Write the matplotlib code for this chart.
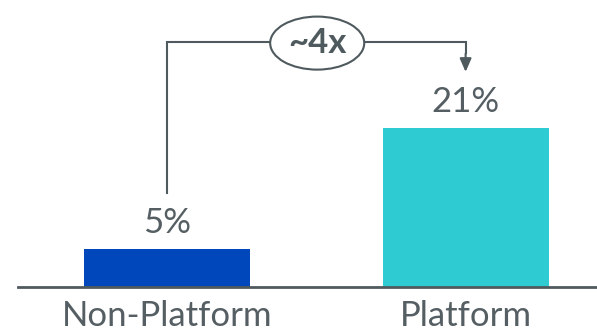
import matplotlib.pyplot as plt
from matplotlib.patches import Ellipse

# Share of results by segment
categories = ["Non-Platform", "Platform"]
values = [5, 21]
labels = ["5%", "21%"]
colors = ["#0047BB", "#2ECBD3"]
multiple_label = "~4x"

text_color = "#555F63"
line_color = "#4F5A5E"

plt.rcParams['font.family'] = ['Lato', 'DejaVu Sans']

fig = plt.figure(figsize=(5.97, 3.36), dpi=100)
ax = fig.add_axes([18 / 597, 49 / 336, 579 / 597, 0.789])

x = list(range(len(categories)))
ax.bar(x, values, width=0.556, color=colors, zorder=2)
ax.set_xlim(-0.499, 1.44)
ax.set_ylim(0, 35)

# value labels above each bar
for xi, v, lab in zip(x, values, labels):
    ax.annotate(lab, (xi, v), xytext=(0, 19), textcoords="offset points",
                ha="center", va="center", fontsize=25, color=text_color)

# baseline only
for s in ["top", "right", "left"]:
    ax.spines[s].set_visible(False)
ax.spines["bottom"].set_color(line_color)
ax.spines["bottom"].set_linewidth(2)
ax.set_yticks([])
ax.set_xticks(x)
ax.set_xticklabels(categories, fontsize=25, color=text_color)
ax.tick_params(axis="x", length=0, pad=9)

# connector between the two bars
gap = 7.4
top = 32.4
ax.plot([0, 0, 1, 1], [values[0] + gap, top, top, top - 1.5],
        color=line_color, lw=1.5, clip_on=False, zorder=3,
        solid_joinstyle="miter")
ax.annotate("", xy=(1, values[1] + gap), xytext=(1, top - 1.6),
            arrowprops=dict(arrowstyle="-|>,head_width=0.35,head_length=0.8",
                            color=line_color, lw=1.5, shrinkA=0, shrinkB=0),
            annotation_clip=False, zorder=3)

ax.add_patch(Ellipse((0.503, top - 0.2), 0.315, 7.0, facecolor="white",
                     edgecolor=line_color, lw=1.5, clip_on=False, zorder=4))
ax.text(0.503, top - 0.2, multiple_label, ha="center", va="center", fontsize=25,
        fontweight="bold", color=line_color, zorder=5)

fig.savefig("out.png", dpi=100)
